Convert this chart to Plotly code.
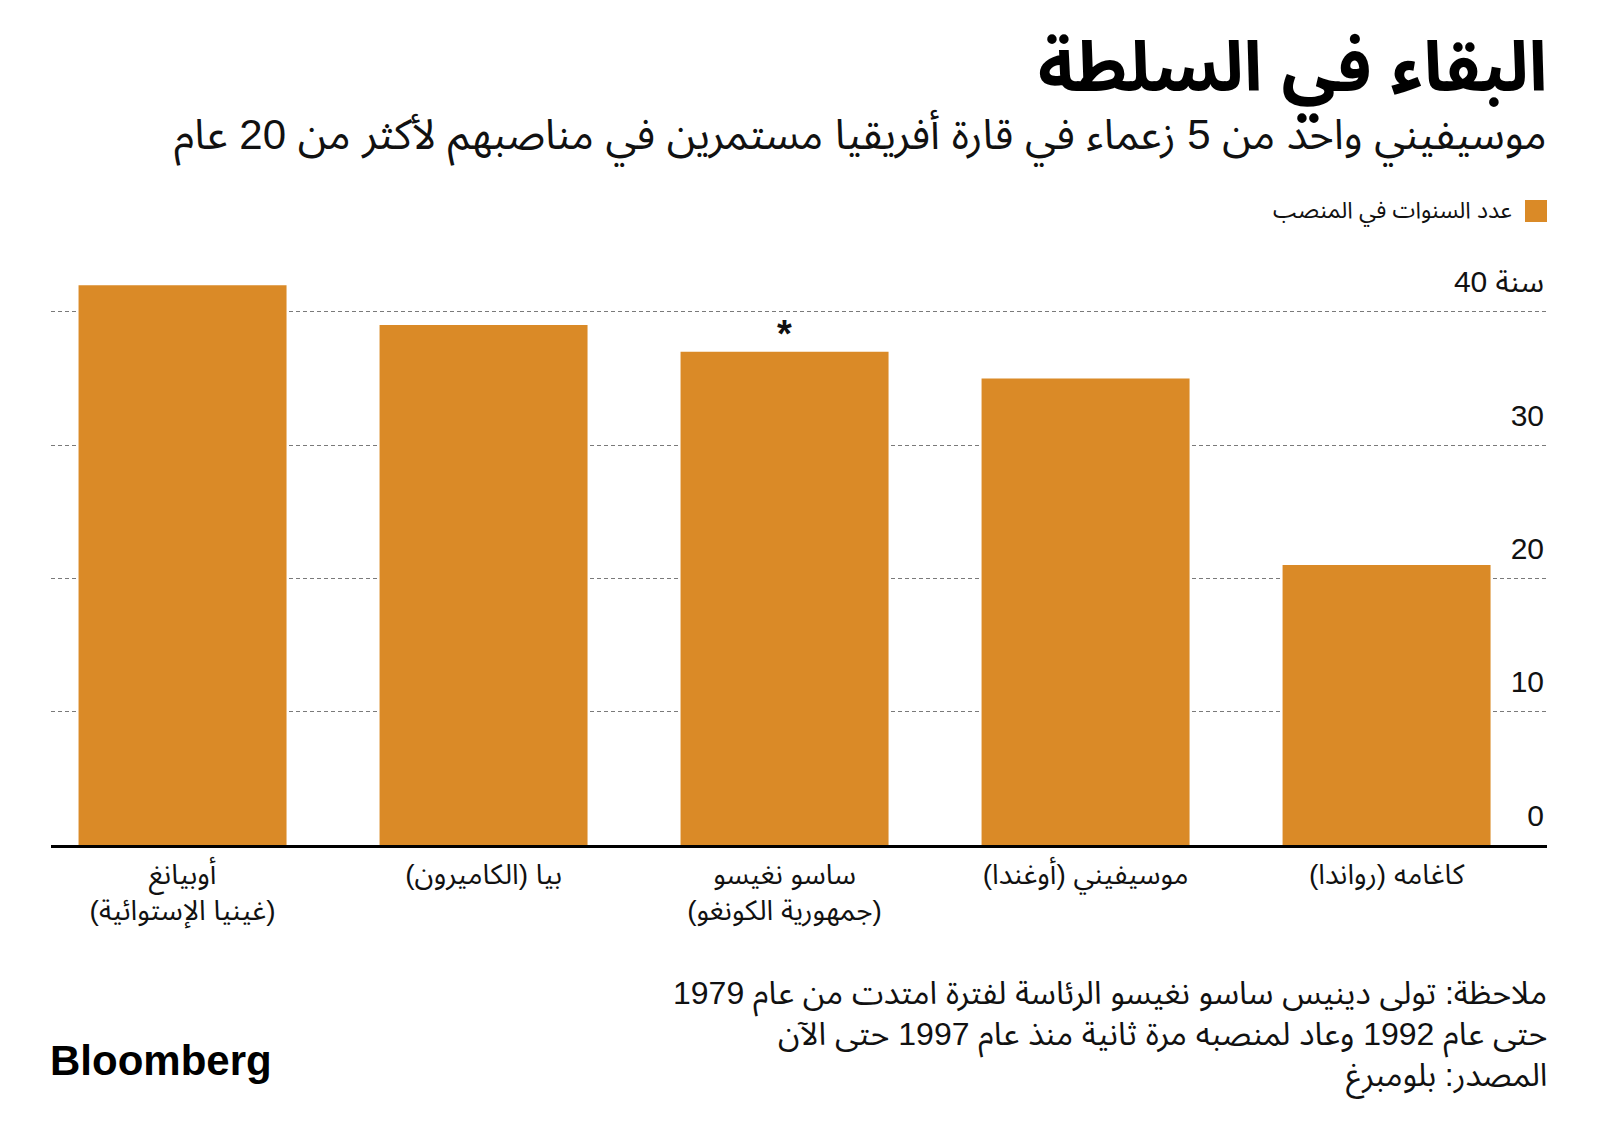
import plotly.graph_objects as go

RLM = "\u200F"

# ---- data ----
leaders = ["أوبيانغ", "بيا (الكاميرون)", "ساسو نغيسو", "موسيفيني (أوغندا)", "كاغامه (رواندا)"]
countries = ["(غينيا الإستوائية)", "", "(جمهورية الكونغو)", "", ""]
years_in_office = [42, 39, 37, 35, 21]
y_tick_values = [0, 10, 20, 30, 40]
y_tick_labels = ["0", "10", "20", "30", "سنة 40"]
asterisk_index = 2

title_text = "البقاء في السلطة"
subtitle_text = "موسيفيني واحد من 5 زعماء في قارة أفريقيا مستمرين في مناصبهم لأكثر من 20 عام"
legend_text = "عدد السنوات في المنصب"
note_lines = [
    "ملاحظة: تولى دينيس ساسو نغيسو الرئاسة لفترة امتدت من عام 1979",
    "حتى عام 1992 وعاد لمنصبه مرة ثانية منذ عام 1997 حتى الآن",
    "المصدر: بلومبرغ",
]

ORANGE = "#DA8A27"
FONT = "Liberation Sans, Noto Sans Arabic, DejaVu Sans, sans-serif"

# plot-area geometry (pixels) used to place page furniture
PL, PR, PT, PB = 51, 1547, 259, 845
Y_TOP = 43.96


def px(x):
    return (x - PL) / (PR - PL)


def py(y):
    return (PB - y) / (PB - PT)


def rtl(s):
    return RLM + s + RLM if s else s


categories = [rtl(l) + ("<br>" + rtl(c) if c else "") for l, c in zip(leaders, countries)]

fig = go.Figure()
fig.add_trace(go.Bar(
    x=categories,
    y=years_in_office,
    marker=dict(color=ORANGE, line=dict(width=0)),
    showlegend=False,
    hoverinfo="skip",
))

fig.update_layout(
    width=1600,
    height=1138,
    margin=dict(l=PL, r=1600 - PR, t=PT, b=1138 - PB),
    paper_bgcolor="white",
    plot_bgcolor="white",
    bargap=0.309,
    font=dict(family=FONT, color="#111111"),
)

fig.update_xaxes(
    type="category",
    range=[-0.437, 4.533],
    showline=True,
    linecolor="#000000",
    linewidth=3,
    showgrid=False,
    ticks="",
    tickfont=dict(size=28, color="#111111"),
    ticklabelstandoff=2,
)

fig.update_yaxes(
    range=[0, Y_TOP],
    side="right",
    tickvals=y_tick_values,
    ticktext=y_tick_labels,
    ticklabelposition="inside top",
    ticklabelshift=-9,
    showgrid=True,
    gridcolor="#7a7a7a",
    gridwidth=1,
    griddash="4px,3px",
    zeroline=False,
    showline=False,
    ticks="",
    tickfont=dict(size=30, color="#111111"),
)

# asterisk above Sassou Nguesso bar
fig.add_annotation(
    x=categories[asterisk_index], y=years_in_office[asterisk_index],
    xref="x", yref="y", text="<b>*</b>", showarrow=False,
    yanchor="bottom", yshift=-5,
    font=dict(size=38, color="#111111", family="Liberation Sans"),
)

# title & subtitle
fig.add_annotation(
    x=px(1549), y=py(76), xref="paper", yref="paper",
    text="<b>" + title_text + "</b>", showarrow=False,
    xanchor="right", yanchor="middle",
    font=dict(size=69, color="#000000", family=FONT),
)
fig.add_annotation(
    x=px(1549), y=py(138), xref="paper", yref="paper",
    text=subtitle_text, showarrow=False,
    xanchor="right", yanchor="middle",
    font=dict(size=42, color="#111111", family=FONT),
)

# legend
fig.add_shape(
    type="rect", xref="paper", yref="paper",
    x0=px(1525), x1=px(1547), y0=py(222), y1=py(200),
    fillcolor=ORANGE, line=dict(width=0),
)
fig.add_annotation(
    x=px(1514), y=py(212), xref="paper", yref="paper",
    text=legend_text, showarrow=False,
    xanchor="right", yanchor="middle",
    font=dict(size=23, color="#111111", family=FONT),
)

# notes
for i, line in enumerate(note_lines):
    fig.add_annotation(
        x=px(1549), y=py(996 + 41 * i), xref="paper", yref="paper",
        text=rtl(line), showarrow=False,
        xanchor="right", yanchor="middle",
        font=dict(size=32, color="#111111", family=FONT),
    )

# Bloomberg logo
fig.add_annotation(
    x=px(48), y=py(1060), xref="paper", yref="paper",
    text="<b>Bloomberg</b>", showarrow=False,
    xanchor="left", yanchor="middle",
    font=dict(size=42, color="#000000", family="Liberation Sans, Arial, sans-serif"),
)

fig.write_html(
    "out.html",
    config={"displayModeBar": False},
    post_script="document.body.style.margin='0';",
)
